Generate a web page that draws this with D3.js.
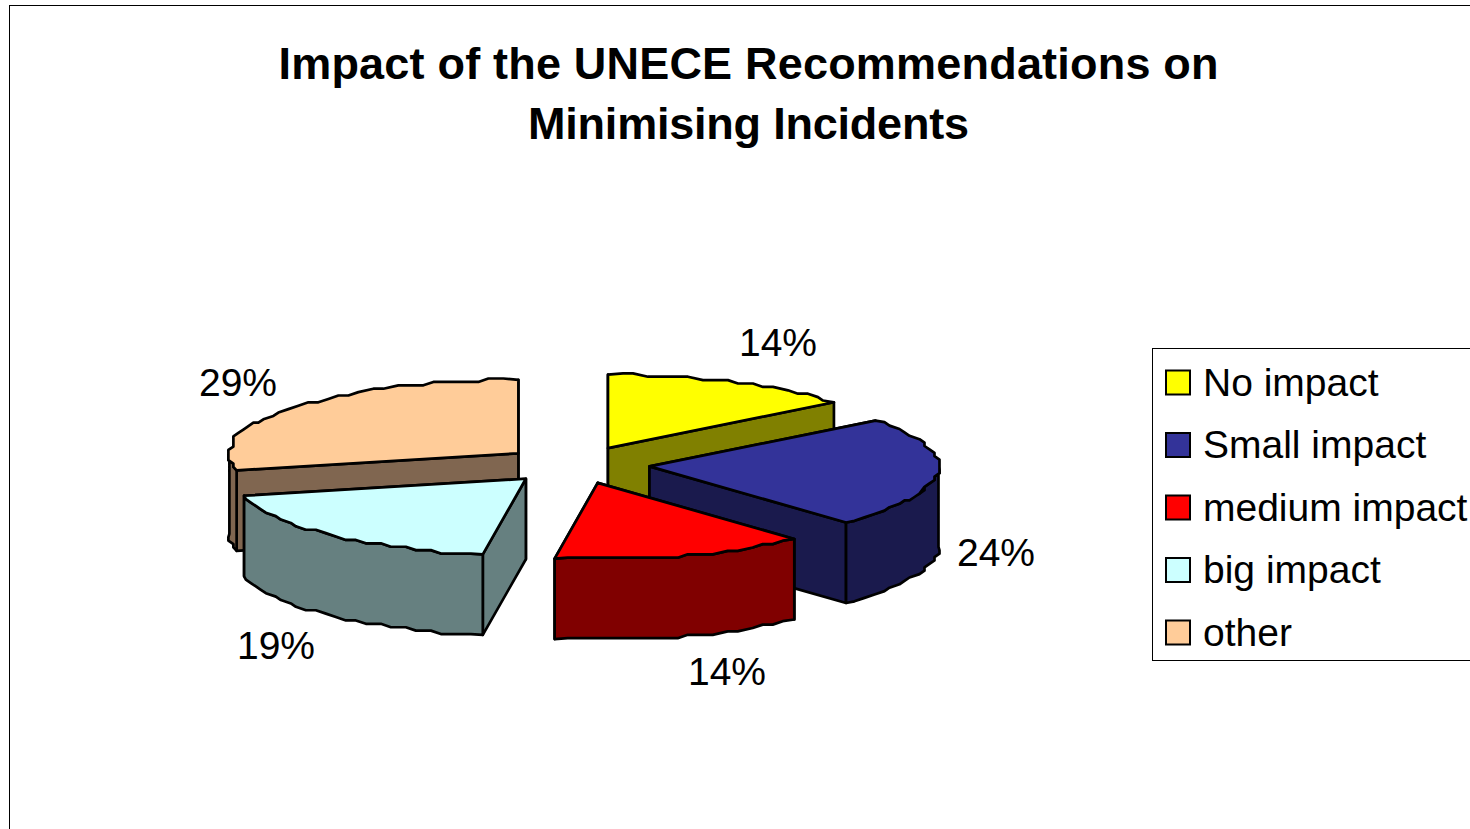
<!DOCTYPE html>
<html><head><meta charset="utf-8">
<style>html,body{margin:0;padding:0;background:#fff;overflow:hidden}svg{display:block}text{font-family:"Liberation Sans",Arial,sans-serif;fill:#000}</style>
<script src="https://cdn.jsdelivr.net/npm/d3@7"></script></head>
<body><svg id="c" width="1470" height="829"></svg>
<script>
const categories = ["No impact","Small impact","medium impact","big impact","other"];
const responses = [3,5,3,4,6];
const topColors = ["#FFFF00","#333399","#FF0000","#CCFFFF","#FFCC99"];
const wallColors = ["#808000","#1A1A4D","#800000","#668080","#806650"];
const titleLines = ["Impact of the UNECE Recommendations on","Minimising Incidents"];

// layout
const cx=576, cy=465, rx=289, ryBack=73.5, ryFront=76.5, depth=80.5, explode=0.255;
const titleWidths=[940,441];
const labelDx=[202,420,151,-300,-338], labelDy=[-109,101,220,194,-69];
const svg=d3.select("#c");
svg.append("rect").attr("x",9.5).attr("y",5.5).attr("width",1600).attr("height",1000).attr("fill","#fff").attr("stroke","#000").attr("stroke-width",1);

svg.selectAll("text.title").data(titleLines).join("text").attr("class","title")
  .attr("x",748.5).attr("y",(d,i)=>79+i*60).attr("text-anchor","middle")
  .attr("font-size",45).attr("font-weight","bold")
  .attr("textLength",(d,i)=>titleWidths[i]).attr("lengthAdjust","spacing").text(d=>d);

const arcs=d3.pie().sort(null).value(d=>d)(responses);
const total=d3.sum(responses);
const stepY=3.4, stepX=5;
const snap=(v,s)=>Math.round(v/s)*s;
function project(a,ox,oy,z,q){
  const c=Math.cos(a), ry=c>=0?ryBack:ryFront;
  const dx=rx*Math.sin(a), dy=-ry*c;
  return [(q?snap(dx,stepX):dx)+ox,(q?snap(dy,stepY):dy)+oy+z];
}
function arcPoints(a0,a1,ox,oy,z){
  const n=Math.max(1,Math.ceil((a1-a0)/(Math.PI/64))), pts=[];
  for(let i=0;i<=n;i++){
    const a=a0+(a1-a0)*i/n;
    pts.push(project(a,ox,oy,z,i>0&&i<n));
  }
  return pts;
}
const line=d3.line();
const drawOrder=[0,4,1,3,2];
const gPie=svg.append("g").attr("stroke","#000").attr("stroke-width",2.7).attr("stroke-linejoin","round");
drawOrder.forEach(i=>{
  const d=arcs[i], mid=(d.startAngle+d.endAngle)/2;
  const ox=cx+explode*rx*Math.sin(mid), oy=cy-explode*ryBack*Math.cos(mid);
  const g=gPie.append("g");
  const apex=[ox,oy], apexB=[ox,oy+depth];
  const wall=(a)=>{const p=project(a,ox,oy,0),pb=project(a,ox,oy,depth);return [apex,p,pb,apexB];};
  const startFront=Math.sin(d.startAngle)<-1e-6, endFront=Math.sin(d.endAngle)>1e-6;
  const walls=[{a:d.startAngle,f:startFront},{a:d.endAngle,f:endFront}].sort((p,q)=>p.f-q.f);
  walls.forEach(w=>g.append("path").attr("d",line(wall(w.a))+"Z").attr("fill",wallColors[i]));
  const f0=Math.max(d.startAngle,Math.PI/2), f1=Math.min(d.endAngle,3*Math.PI/2);
  if(f1>f0){
    const up=arcPoints(f0,f1,ox,oy,0), low=arcPoints(f0,f1,ox,oy,depth).reverse();
    g.append("path").attr("d",line(up.concat(low))+"Z").attr("fill",wallColors[i]);
  }
  g.append("path").attr("d",line([apex].concat(arcPoints(d.startAngle,d.endAngle,ox,oy,0)))+"Z").attr("fill",topColors[i]);
});

svg.selectAll("text.pct").data(arcs).join("text").attr("class","pct")
  .attr("x",(d,i)=>cx+labelDx[i]).attr("y",(d,i)=>cy+labelDy[i])
  .attr("text-anchor","middle").attr("font-size",39).text(d=>d3.format(".0%")(d.value/total));

const lx=1152.5,ly=348.5,lh=312;
svg.append("rect").attr("x",lx).attr("y",ly).attr("width",400).attr("height",lh).attr("fill","#fff").attr("stroke","#000").attr("stroke-width",1);
const ys=d3.scalePoint().domain(categories).range([382.5,632.5]);
svg.selectAll("rect.sw").data(categories).join("rect").attr("class","sw")
  .attr("x",1166).attr("y",d=>ys(d)-12).attr("width",24).attr("height",24)
  .attr("fill",(d,i)=>topColors[i]).attr("stroke","#000").attr("stroke-width",2);
svg.selectAll("text.lg").data(categories).join("text").attr("class","lg")
  .attr("x",1203).attr("y",d=>ys(d)+13).attr("font-size",39).text(d=>d);
</script></body></html>
